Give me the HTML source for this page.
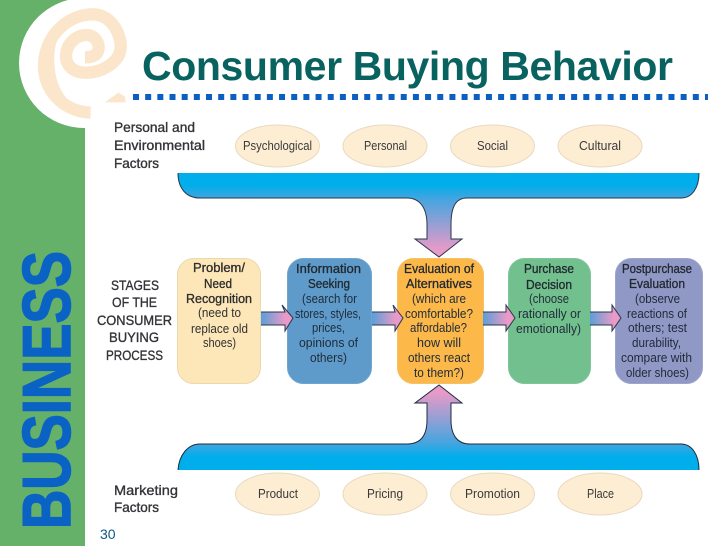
<!DOCTYPE html>
<html><head><meta charset="utf-8"><style>
html,body{margin:0;padding:0;background:#fff;width:728px;height:546px;overflow:hidden}
svg{display:block}
text{font-family:"Liberation Sans",sans-serif}
.l{font-size:14px;fill:#333338;stroke:#333338;stroke-width:.35}
.o{font-size:13px;fill:#3a3a3a}
.t{font-size:13px;fill:#303030}
.b{font-size:13px;fill:#1f2b38}
.h{stroke:#222;stroke-width:.3}
</style></head><body>
<svg width="728" height="546" viewBox="0 0 728 546" xmlns="http://www.w3.org/2000/svg">
<defs>
<linearGradient id="g1" gradientUnits="userSpaceOnUse" x1="0" y1="185" x2="0" y2="250"><stop offset="0" stop-color="#00aeeb"/><stop offset=".22" stop-color="#46a4df"/><stop offset="1" stop-color="#e99ac8"/></linearGradient>
<linearGradient id="g2" gradientUnits="userSpaceOnUse" x1="0" y1="457" x2="0" y2="392"><stop offset="0" stop-color="#00aeeb"/><stop offset=".22" stop-color="#46a4df"/><stop offset="1" stop-color="#e99ac8"/></linearGradient>
<linearGradient id="g3" x1="0" y1="0" x2="1" y2="0"><stop offset="0" stop-color="#5a9ed8"/><stop offset=".75" stop-color="#e89ac8"/></linearGradient>
</defs>
<rect width="728" height="546" fill="#fff"/>
<rect width="85" height="546" fill="#66b16a"/>
<circle cx="84" cy="63" r="65" fill="#fff"/>
<rect x="85" width="643" height="546" fill="#fff"/>
<g transform="translate(30,0) scale(.3333)">
<path d="M182 338 C100 335 40 270 42 195 C44 110 110 43 190 43 C250 46 275 110 272 145 C268 190 210 220 165 218 C130 218 108 195 108 170 C108 130 140 105 170 105 C195 105 210 130 205 150 C200 170 180 172 165 172" fill="none" stroke="#fbe6cb" stroke-width="37"/>
<path d="M45 265 C20 220 15 130 90 60 L130 40 C90 80 70 130 73 190 C75 230 85 265 110 295 Z" fill="#fbe6cb"/>
<path d="M225 307 L265 278 L285 290 L287 307 Z" fill="#fbe6cb"/>
</g>
<text x="142" y="80" font-size="41" font-weight="bold" fill="#08625f" textLength="531" lengthAdjust="spacing">Consumer Buying Behavior</text>
<path d="M133 97 H708" stroke="#0a5fc0" stroke-width="6" stroke-dasharray="6 6.17" fill="none"/>
<text transform="translate(70,529) rotate(-90)" font-size="68" font-weight="bold" fill="#0a63c4" stroke="#0a63c4" stroke-width="1.6" textLength="278" lengthAdjust="spacingAndGlyphs">BUSINESS</text>
<text x="100" y="539" font-size="14" fill="#0f5a86">30</text>

<path d="M178 173 H699 C699 188 692 198 681 198 H467 C455 198 451 208 451 225 V239 H462 L439 257 L415 239 H427 V225 C427 208 420 198 407 198 H200 C186 198 178 188 178 173 Z" fill="url(#g1)"/>
<path d="M699 173 C699 188 692 198 681 198 H467 C455 198 451 208 451 225 V239 H462 L439 257 L415 239 H427 V225 C427 208 420 198 407 198 H200 C186 198 178 188 178 173" fill="none" stroke="#26384c" stroke-width="1"/>
<path d="M178 470 C179 455 188 444 200 444 H407 C420 444 427 436 427 420 V403 H415 L439 385 L462 403 H451 V420 C451 436 458 444 470 444 H681 C692 444 699 455 699 470 Z" fill="url(#g2)"/>
<path d="M178 470 C179 455 188 444 200 444 H407 C420 444 427 436 427 420 V403 H415 L439 385 L462 403 H451 V420 C451 436 458 444 470 444 H681 C692 444 699 455 699 470" fill="none" stroke="#1c2c3e" stroke-width="1"/>

<g fill="#fcedd3" stroke="#e9d9c0" stroke-width="1">
<ellipse cx="277.5" cy="146" rx="42" ry="21"/><ellipse cx="385" cy="146" rx="42" ry="21"/><ellipse cx="492.5" cy="146" rx="42" ry="21"/><ellipse cx="600" cy="146" rx="42" ry="21"/>
<ellipse cx="277.5" cy="494" rx="42" ry="21"/><ellipse cx="385" cy="494" rx="42" ry="21"/><ellipse cx="492.5" cy="494" rx="42" ry="21"/><ellipse cx="600" cy="494" rx="42" ry="21"/>
</g>

<rect x="177.500" y="258.500" width="83" height="125" rx="16" fill="#fde7b9" stroke="#ead9ae"/>
<rect x="287.500" y="258.500" width="84" height="125" rx="16" fill="#5f9bca" stroke="#6fa5ce"/>
<rect x="397.500" y="258.500" width="86" height="125" rx="16" fill="#fdb84a" stroke="#f2c169"/>
<rect x="508.500" y="258.500" width="82" height="125" rx="16" fill="#73c08f" stroke="#80c59a"/>
<rect x="615.500" y="258.500" width="87" height="125" rx="16" fill="#9098c6" stroke="#9ea5cc"/>

<g fill="url(#g3)" stroke="#26384c" stroke-width="1">
<path d="M261 312 H285 L282 305 L293 318 L285 331 L285 325 H261"/>
<path d="M372 312 H395 L393 305 L403 318 L395 331 L395 325 H372"/>
<path d="M483 312 H506 L506 305 L515 318 L506 331 L506 325 H483"/>
<path d="M590 312 H612 L612 305 L621 318 L612 331 L612 325 H590"/>
</g>

<g class="l">
<text x="114" y="132" textLength="81" lengthAdjust="spacingAndGlyphs">Personal and</text>
<text x="114" y="150" textLength="91" lengthAdjust="spacingAndGlyphs">Environmental</text>
<text x="114" y="168" textLength="45" lengthAdjust="spacingAndGlyphs">Factors</text>
<text x="111" y="290" textLength="48" lengthAdjust="spacingAndGlyphs">STAGES</text>
<text x="112" y="307" textLength="45" lengthAdjust="spacingAndGlyphs">OF THE</text>
<text x="97" y="325" textLength="75" lengthAdjust="spacingAndGlyphs">CONSUMER</text>
<text x="109" y="342" textLength="50" lengthAdjust="spacingAndGlyphs">BUYING</text>
<text x="106" y="360" textLength="57" lengthAdjust="spacingAndGlyphs">PROCESS</text>
<text x="114" y="495" textLength="64" lengthAdjust="spacingAndGlyphs">Marketing</text>
<text x="114" y="512" textLength="45" lengthAdjust="spacingAndGlyphs">Factors</text>
</g>

<g class="o">
<text x="243" y="150" textLength="69" lengthAdjust="spacingAndGlyphs">Psychological</text>
<text x="364" y="150" textLength="43" lengthAdjust="spacingAndGlyphs">Personal</text>
<text x="477" y="150" textLength="31" lengthAdjust="spacingAndGlyphs">Social</text>
<text x="579" y="150" textLength="42" lengthAdjust="spacingAndGlyphs">Cultural</text>
<text x="258" y="498" textLength="40" lengthAdjust="spacingAndGlyphs">Product</text>
<text x="367" y="498" textLength="36" lengthAdjust="spacingAndGlyphs">Pricing</text>
<text x="465" y="498" textLength="55" lengthAdjust="spacingAndGlyphs">Promotion</text>
<text x="587" y="498" textLength="27" lengthAdjust="spacingAndGlyphs">Place</text>
</g>

<g class="t">
<text class="h" x="193" y="272" textLength="52" lengthAdjust="spacingAndGlyphs">Problem/</text>
<text class="h" x="204" y="288" textLength="28" lengthAdjust="spacingAndGlyphs">Need</text>
<text class="h" x="186" y="303" textLength="66" lengthAdjust="spacingAndGlyphs">Recognition</text>
<text x="198" y="317" textLength="43" lengthAdjust="spacingAndGlyphs">(need to</text>
<text x="191" y="333" textLength="57" lengthAdjust="spacingAndGlyphs">replace old</text>
<text x="203" y="347" textLength="33" lengthAdjust="spacingAndGlyphs">shoes)</text>
</g>
<g class="b">
<text class="h" x="296" y="273" textLength="65" lengthAdjust="spacingAndGlyphs">Information</text>
<text class="h" x="308" y="288" textLength="42" lengthAdjust="spacingAndGlyphs">Seeking</text>
<text x="302" y="303" textLength="55" lengthAdjust="spacingAndGlyphs">(search for</text>
<text x="295" y="318" textLength="66" lengthAdjust="spacingAndGlyphs">stores, styles,</text>
<text x="312" y="332" textLength="33" lengthAdjust="spacingAndGlyphs">prices,</text>
<text x="299" y="347" textLength="59" lengthAdjust="spacingAndGlyphs">opinions of</text>
<text x="310" y="362" textLength="37" lengthAdjust="spacingAndGlyphs">others)</text>

<text class="h" x="404" y="273" textLength="70" lengthAdjust="spacingAndGlyphs">Evaluation of</text>
<text class="h" x="406" y="288" textLength="66" lengthAdjust="spacingAndGlyphs">Alternatives</text>
<text x="412" y="303" textLength="54" lengthAdjust="spacingAndGlyphs">(which are</text>
<text x="405" y="318" textLength="68" lengthAdjust="spacingAndGlyphs">comfortable?</text>
<text x="410" y="332" textLength="57" lengthAdjust="spacingAndGlyphs">affordable?</text>
<text x="417" y="347" textLength="44" lengthAdjust="spacingAndGlyphs">how will</text>
<text x="408" y="362" textLength="62" lengthAdjust="spacingAndGlyphs">others react</text>
<text x="414" y="377" textLength="50" lengthAdjust="spacingAndGlyphs">to them?)</text>

<text class="h" x="524" y="273" textLength="50" lengthAdjust="spacingAndGlyphs">Purchase</text>
<text class="h" x="526" y="289" textLength="46" lengthAdjust="spacingAndGlyphs">Decision</text>
<text x="529" y="303" textLength="40" lengthAdjust="spacingAndGlyphs">(choose</text>
<text x="518" y="318" textLength="63" lengthAdjust="spacingAndGlyphs">rationally or</text>
<text x="516" y="333" textLength="65" lengthAdjust="spacingAndGlyphs">emotionally)</text>

<text class="h" x="622" y="273" textLength="70" lengthAdjust="spacingAndGlyphs">Postpurchase</text>
<text class="h" x="629" y="288" textLength="56" lengthAdjust="spacingAndGlyphs">Evaluation</text>
<text x="635" y="303" textLength="45" lengthAdjust="spacingAndGlyphs">(observe</text>
<text x="627" y="318" textLength="60" lengthAdjust="spacingAndGlyphs">reactions of</text>
<text x="628" y="332" textLength="59" lengthAdjust="spacingAndGlyphs">others; test</text>
<text x="632" y="347" textLength="49" lengthAdjust="spacingAndGlyphs">durability,</text>
<text x="621" y="362" textLength="71" lengthAdjust="spacingAndGlyphs">compare with</text>
<text x="626" y="377" textLength="63" lengthAdjust="spacingAndGlyphs">older shoes)</text>
</g>
</svg>
</body></html>
